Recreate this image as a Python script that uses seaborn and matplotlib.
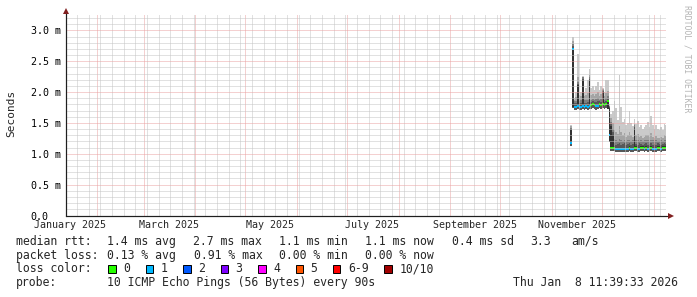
import numpy as np
import pandas as pd
import matplotlib
matplotlib.use("Agg")
import matplotlib.pyplot as plt
import matplotlib.dates as mdates
from matplotlib.ticker import MultipleLocator, NullFormatter
from matplotlib.patches import Rectangle
import seaborn as sns

# ---------------- data (round-trip times in milliseconds) ----------------
range_start = "2025-01-13 11:39:33"
range_end = "2026-01-08 11:39:33"
data_first_day = "2025-11-12"

median_ms = [1.18, 2.70, 1.76, 1.76, 1.77, 1.76, 1.76, 1.77, 1.76, 1.77,
             1.76, 1.77, 1.79, 1.80, 1.79, 1.77, 1.77, 1.80, 1.79, 1.80,
             1.79, 1.80, 1.85, 1.30, 1.10, 1.10, 1.10, 1.08, 1.08, 1.08,
             1.08, 1.08, 1.08, 1.08, 1.08, 1.10, 1.08, 1.08, 1.10, 1.10,
             1.08, 1.08, 1.10, 1.10, 1.08, 1.10, 1.08, 1.10, 1.10, 1.08,
             1.08, 1.08, 1.10, 1.10, 1.08, 1.10, 1.10, 1.10]
loss_count = [1, 1, 1, 1, 1, 1, 1, 1, 1, 1,
              1, 1, 0, 0, 0, 1, 1, 0, 0, 0,
              0, 0, 0, 1, 0, 0, 0, 1, 1, 1,
              1, 1, 1, 1, 1, 0, 1, 1, 0, 0,
              1, 1, 0, 0, 1, 0, 1, 0, 0, 1,
              1, 1, 0, 0, 1, 0, 0, 0]
# lowest pings (bottom of the outer smoke bands)
ping_low = [1.13, 1.74, 1.71, 1.71, 1.72, 1.71, 1.71, 1.72, 1.71, 1.72,
            1.71, 1.72, 1.73, 1.74, 1.73, 1.71, 1.72, 1.74, 1.73, 1.74,
            1.73, 1.74, 1.72, 1.19, 1.04, 1.04, 1.04, 1.03, 1.03, 1.03,
            1.03, 1.03, 1.03, 1.03, 1.03, 1.04, 1.03, 1.03, 1.04, 1.04,
            1.03, 1.03, 1.04, 1.04, 1.03, 1.04, 1.03, 1.04, 1.04, 1.03,
            1.03, 1.03, 1.04, 1.04, 1.03, 1.04, 1.04, 1.04]
# 5th ping (bottom of the innermost, darkest band)
ping5 = [1.16, 1.76, 1.75, 1.75, 1.76, 1.75, 1.75, 1.76, 1.75, 1.76,
         1.75, 1.76, 1.78, 1.79, 1.78, 1.76, 1.76, 1.79, 1.78, 1.79,
         1.78, 1.79, 1.72, 1.20, 1.09, 1.09, 1.09, 1.07, 1.07, 1.07,
         1.07, 1.07, 1.07, 1.07, 1.07, 1.09, 1.07, 1.07, 1.09, 1.09,
         1.07, 1.07, 1.09, 1.09, 1.07, 1.09, 1.07, 1.09, 1.09, 1.07,
         1.07, 1.07, 1.09, 1.09, 1.07, 1.09, 1.09, 1.09]
ping6 = [1.38, 2.72, 1.78, 1.78, 2.12, 1.78, 1.78, 2.20, 1.78, 1.79,
         1.78, 2.19, 1.81, 1.82, 1.81, 1.79, 1.79, 1.82, 1.81, 2.00,
         1.81, 1.82, 1.87, 1.75, 1.45, 1.30, 1.12, 1.10, 1.10, 1.10,
         1.10, 1.10, 1.10, 1.10, 1.10, 1.12, 1.10, 1.10, 1.41, 1.12,
         1.10, 1.10, 1.12, 1.12, 1.10, 1.12, 1.10, 1.12, 1.12, 1.10,
         1.10, 1.10, 1.12, 1.12, 1.10, 1.12, 1.12, 1.12]
ping7 = [1.40, 2.75, 1.82, 1.83, 2.14, 1.82, 1.83, 2.22, 1.83, 1.83,
         1.84, 2.21, 1.84, 1.85, 1.84, 1.84, 1.85, 1.85, 1.84, 2.02,
         1.84, 1.85, 1.89, 1.76, 1.48, 1.35, 1.17, 1.15, 1.16, 1.17,
         1.15, 1.16, 1.17, 1.15, 1.16, 1.17, 1.15, 1.16, 1.43, 1.16,
         1.15, 1.17, 1.16, 1.15, 1.16, 1.17, 1.15, 1.16, 1.17, 1.15,
         1.16, 1.15, 1.17, 1.16, 1.15, 1.16, 1.17, 1.16]
ping8 = [1.42, 2.78, 1.85, 1.86, 2.17, 1.86, 1.87, 2.24, 1.87, 1.88,
         1.88, 2.24, 1.88, 1.89, 1.88, 1.89, 1.90, 1.88, 1.89, 2.04,
         1.88, 1.90, 1.93, 1.77, 1.52, 1.40, 1.24, 1.22, 1.21, 1.24,
         1.22, 1.21, 1.23, 1.21, 1.22, 1.23, 1.21, 1.22, 1.46, 1.22,
         1.23, 1.21, 1.22, 1.21, 1.22, 1.23, 1.22, 1.21, 1.23, 1.22,
         1.21, 1.22, 1.21, 1.21, 1.22, 1.21, 1.23, 1.22]
ping9 = [1.45, 2.83, 1.88, 1.92, 2.25, 1.91, 1.93, 2.25, 1.93, 1.95,
         1.98, 2.28, 1.95, 1.97, 1.94, 1.97, 2.00, 1.94, 1.97, 2.05,
         1.93, 1.98, 2.02, 1.78, 1.58, 1.50, 1.38, 1.35, 1.32, 1.45,
         1.36, 1.30, 1.33, 1.28, 1.30, 1.36, 1.30, 1.28, 1.49, 1.30,
         1.32, 1.27, 1.29, 1.26, 1.28, 1.30, 1.31, 1.27, 1.34, 1.28,
         1.26, 1.29, 1.26, 1.25, 1.28, 1.25, 1.30, 1.29]
ping10 = [1.47, 2.90, 1.91, 2.00, 2.62, 1.95, 2.00, 2.26, 2.00, 2.06,
          2.19, 2.38, 2.06, 2.10, 2.03, 2.10, 2.16, 2.03, 2.10, 2.06,
          2.00, 2.19, 2.20, 1.80, 1.65, 1.70, 1.86, 1.74, 1.55, 2.27,
          1.76, 1.52, 1.57, 1.46, 1.50, 1.70, 1.50, 1.45, 1.57, 1.48,
          1.54, 1.44, 1.47, 1.41, 1.44, 1.47, 1.51, 1.44, 1.62, 1.46,
          1.41, 1.47, 1.41, 1.38, 1.44, 1.38, 1.49, 1.47]

y_tick_values = [0.0, 0.5, 1.0, 1.5, 2.0, 2.5, 3.0]
y_tick_labels = ["0.0", "0.5 m", "1.0 m", "1.5 m", "2.0 m", "2.5 m", "3.0 m"]
label_months = ["2025-01-01", "2025-03-01", "2025-05-01", "2025-07-01",
                "2025-09-01", "2025-11-01"]
label_texts = ["January 2025", "March 2025", "May 2025", "July 2025",
               "September 2025", "November 2025"]

stat_rtt = ["median rtt:", "1.4 ms avg", "2.7 ms max", "1.1 ms min",
            "1.1 ms now", "0.4 ms sd", "3.3", "am/s"]
stat_loss = ["packet loss:", "0.13 % avg", "0.91 % max", "0.00 % min",
             "0.00 % now"]
loss_labels = ["0", "1", "2", "3", "4", "5", "6-9", "10/10"]
loss_colors = ["#26ff00", "#00b8ff", "#0059ff", "#7e00ff", "#ff00ff",
               "#ff5500", "#ff0000", "#a10000"]
probe_text = "10 ICMP Echo Pings (56 Bytes) every 90s"
stamp_text = "Thu Jan  8 11:39:33 2026"
watermark = "RRDTOOL / TOBI OETIKER"

# ---------------- styling ----------------
sns.set_style("white")
plt.rcParams["font.family"] = ["DejaVu Sans Mono"]
plt.rcParams["lines.scale_dashes"] = False
W, H = 697, 297
MONO = "DejaVu Sans Mono"
grid_minor = "#c4c4c4"
grid_major = "#eba2a2"
tick_minor = "#b0b0b0"
tick_major = "#e07070"
arrow_col = "#801f1f"
axis_col = "#1f1f1f"
smoke_cols = ["#cacaca", "#a4a4a4", "#7e7e7e", "#585858", "#323232"]
palette = sns.color_palette(loss_colors)

fig = plt.figure(figsize=(W / 100, H / 100), dpi=100)
fig.patch.set_facecolor("white")
ax = fig.add_axes([66 / W, 81.5 / H, 600 / W, 202 / H])
ax.set_facecolor("white")

t0 = pd.Timestamp(range_start)
t1 = pd.Timestamp(range_end)
days = pd.date_range(data_first_day, periods=len(median_ms), freq="D")
edges = list(days) + [t1]

def ext(v):
    return list(v) + [v[-1]]

# smoke: outermost (lightest) first, innermost darkest last
bottoms = [ping_low, ping_low, ping_low, ping_low, ping5]
tops = [ping10, ping9, ping8, ping7, ping6]
for col, bot, top in zip(smoke_cols, bottoms, tops):
    ax.fill_between(edges, ext(bot), ext(top), step="post",
                    color=col, linewidth=0, zorder=1)

# median bars coloured by loss
ylim_top = 3.275
half = ylim_top / 202.0
bar_w = [(edges[i + 1] - edges[i]) / pd.Timedelta(days=1) for i in range(len(days))]
ax.bar(mdates.date2num(days), [2 * half] * len(days),
       bottom=np.array(median_ms) - half, width=bar_w, align="edge",
       color=[palette[k] for k in loss_count], linewidth=0, zorder=2)

ax.set_xlim(t0, t1)
ax.set_ylim(0, ylim_top)

# grid
ax.xaxis.set_major_locator(mdates.MonthLocator())
ax.xaxis.set_minor_locator(mdates.WeekdayLocator(byweekday=mdates.MO))
ax.xaxis.set_major_formatter(NullFormatter())
ax.xaxis.set_minor_formatter(NullFormatter())
ax.yaxis.set_minor_locator(MultipleLocator(0.1))
ax.set_yticks(y_tick_values)
ax.set_yticklabels(y_tick_labels, ha="left", fontsize=7.2, family=MONO)
ax.set_axisbelow(False)
dots = (0, (0.72, 0.72))
ax.grid(which="major", color=grid_major, linestyle=dots, linewidth=0.72, snap=True)
ax.grid(which="minor", color=grid_minor, linestyle=dots, linewidth=0.72, snap=True)
ax.tick_params(axis="y", which="both", direction="out", length=1.5, width=0.72,
               pad=24.0, labelcolor="black")
ax.tick_params(axis="y", which="minor", color=tick_minor)
ax.tick_params(axis="y", which="major", color=tick_major)
ax.tick_params(axis="x", which="both", direction="out", length=1.5, width=0.72)
ax.tick_params(axis="x", which="minor", color=tick_minor)
ax.tick_params(axis="x", which="major", color=tick_major)

for s in ["top", "right"]:
    ax.spines[s].set_visible(False)
for s in ["left", "bottom"]:
    ax.spines[s].set_color(axis_col)
    ax.spines[s].set_linewidth(0.8)
    ax.spines[s].set_zorder(4)

# month labels centred half a month after the month start (RRDtool style)
sec = ax.secondary_xaxis("bottom")
lab_pos = [mdates.date2num(pd.Timestamp(m) + pd.Timedelta(days=15)) for m in label_months]
sec.set_xticks(lab_pos)
sec.set_xticklabels(label_texts, fontsize=7.2, family=MONO)
sec.tick_params(length=0, pad=3.0)
for s in sec.spines.values():
    s.set_visible(False)

# arrows
ax.plot([0], [1.013], marker="^", markersize=3.8, color=arrow_col,
        transform=ax.transAxes, clip_on=False, zorder=5, markeredgewidth=0)
ax.plot([1.008], [0], marker=">", markersize=3.8, color=arrow_col,
        transform=ax.transAxes, clip_on=False, zorder=5, markeredgewidth=0)
ax.plot([0, 1.004], [0, 0], color=axis_col, lw=0.8, transform=ax.transAxes,
        clip_on=False, zorder=4)
ax.plot([0, 0], [0, 1.01], color=axis_col, lw=0.8, transform=ax.transAxes,
        clip_on=False, zorder=4)

# axis title and watermark
fig.text(10.8 / W, 1 - 113.5 / H, "Seconds", rotation=90, ha="center",
         va="center", fontsize=8.0, family=MONO)
fig.text(686.7 / W, 1 - 59 / H, watermark, rotation=270, ha="center",
         va="center", fontsize=5.9, family=MONO, color="#b4b4b4")

# legend block
LFS = 8.3
CW = 6.94

def ftext(x, y, s, **kw):
    fig.text(x / W, 1 - y / H, s, ha="left", va="baseline", fontsize=LFS,
             family=MONO, **kw)

row1_x = [15.5, 106.6, 192.6, 278.6, 365.3, 451.5, 530.0, 571.0]
for x, s in zip(row1_x, stat_rtt):
    ftext(x, 245.0, s)
row2_x = [15.5, 106.6, 194.3, 278.6, 365.3]
for x, s in zip(row2_x, stat_loss):
    ftext(x, 258.6, s)
ftext(15.5, 272.4, "loss color:")
bx = 108.3
for lab, col in zip(loss_labels, loss_colors):
    fig.patches.append(Rectangle((bx / W, 1 - 273.3 / H), 7.5 / W, 8.3 / H,
                                 transform=fig.transFigure, facecolor=col,
                                 edgecolor="black", linewidth=0.7))
    ftext(bx + 15.0, 272.4, lab)
    bx = bx + 15.7 + len(lab) * CW + 14.8
ftext(15.5, 286.0, "probe:")
ftext(106.6, 286.0, probe_text)
ftext(512.6, 286.0, stamp_text)

fig.savefig("out.png", dpi=100, facecolor="white")
